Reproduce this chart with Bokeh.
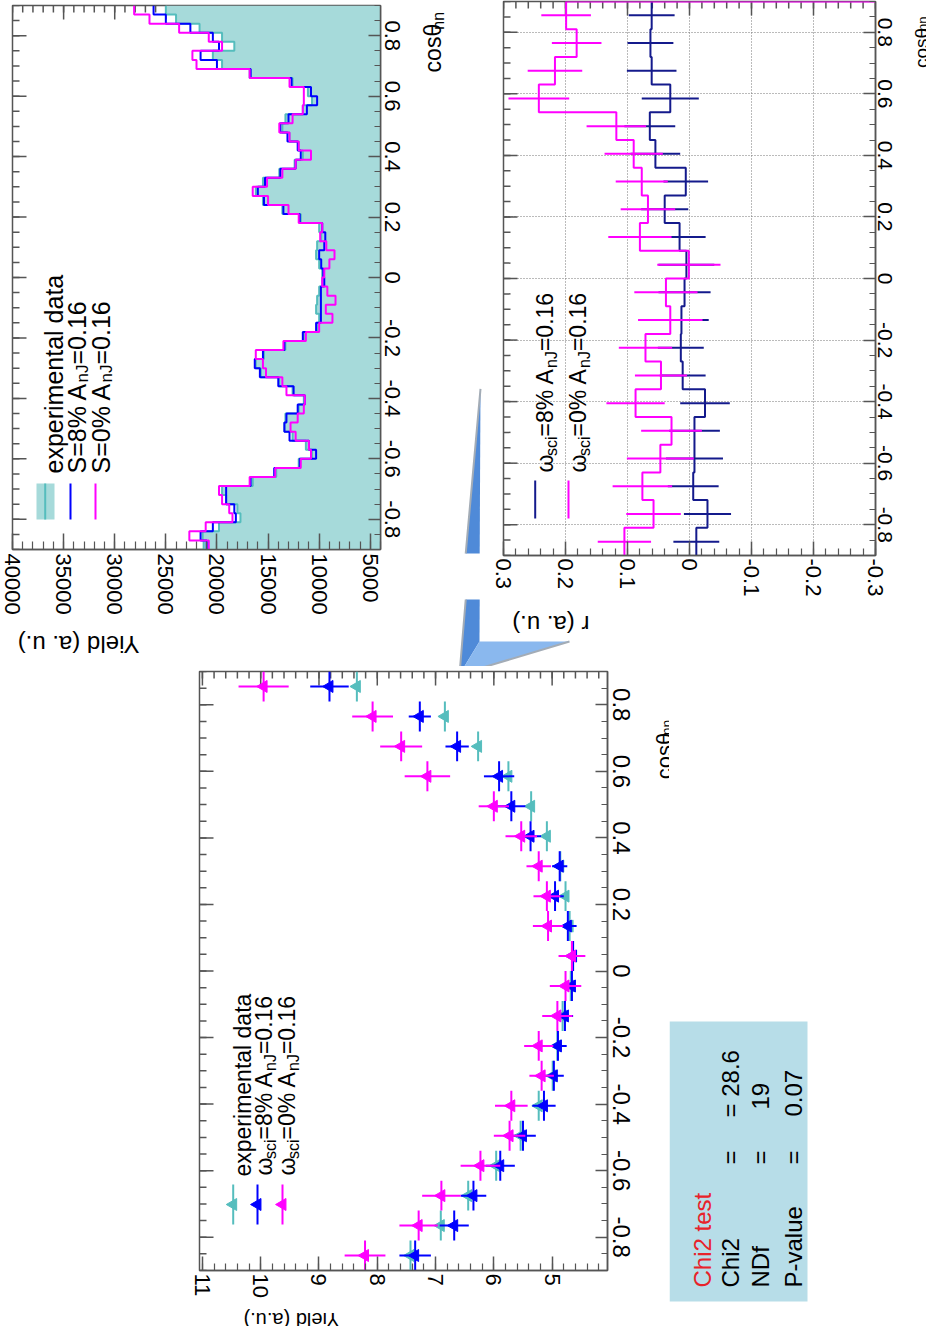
import math
from bokeh.plotting import figure
from bokeh.layouts import column, row
from bokeh.models import Range1d, FixedTicker, CustomJSTickFormatter, Label
from bokeh.embed import file_html
from bokeh.resources import INLINE

# ---------------- data ----------------
# Panel A: fine-binned yields (bins of 0.03 from -0.9 to 0.9)
hist_lo = -0.9
hist_bin = 0.03
yield_exp = [21300, 21400, 19800, 17700, 18000, 19100, 19500, 16500, 14200, 12000,
             10700, 11300, 12600, 13400, 13300, 12000, 11500, 12600, 13900, 15700,
             16200, 15400, 13300, 11500, 10200, 10000, 10300, 10200, 10000, 9700,
             9700, 10000, 10300, 10200, 9800, 10000, 11800, 13600, 15500, 16200,
             15500, 13900, 12400, 11600, 12000, 12900, 13600, 13300, 11600, 10700,
             11100, 12600, 16800, 19500, 20400, 18300, 19500, 21700, 24000, 25000]
yield_s8 = [21000, 21600, 20400, 18150, 18300, 19100, 19100, 16700, 14400, 11900,
            10300, 11000, 12900, 13400, 13200, 12100, 11400, 12500, 14000, 15800,
            16300, 15500, 13400, 11600, 10300, 9830, 9830, 9830, 9830, 9500,
            9600, 9800, 10000, 9500, 9400, 9700, 11900, 13500, 15400, 16000,
            15300, 13800, 12300, 11800, 12100, 13100, 13800, 13000, 11200, 10200,
            10800, 12700, 16700, 20000, 21600, 19800, 20400, 22600, 25000, 26200]
yield_s0 = [20800, 22700, 21100, 18480, 18800, 19500, 19800, 16800, 14300, 11800,
            10800, 11000, 12300, 12800, 12100, 11500, 11400, 13200, 13600, 15200,
            15500, 16200, 13500, 11300, 10000, 8700, 9350, 8400, 9200, 9700,
            9500, 9000, 8500, 9300, 9900, 9700, 12000, 13000, 15000, 16500,
            15100, 13600, 12300, 10800, 12000, 12900, 13900, 12600, 11600, 11500,
            11500, 12900, 16800, 22000, 22400, 19500, 20800, 23700, 26600, 28100]

# Panel B: ratio r (20 bins of 0.09)
ratio_lo = -0.9
ratio_bin = 0.09
r_s8 = [-0.011, -0.029, -0.006, -0.008, -0.008, -0.025, 0.011, 0.014, 0.013, 0.008,
        0.005, 0.016, 0.040, 0.006, 0.055, 0.064, 0.031, 0.061, 0.063, 0.061]
r_s8_err = [0.037, 0.038, 0.041, 0.046, 0.041, 0.040, 0.037, 0.037, 0.044, 0.042,
            0.045, 0.042, 0.038, 0.036, 0.040, 0.041, 0.046, 0.040, 0.037, 0.037]
r_s0 = [0.105, 0.058, 0.076, 0.047, 0.029, 0.087, 0.046, 0.071, 0.031, 0.038,
        0.001, 0.080, 0.067, 0.077, 0.090, 0.118, 0.243, 0.217, 0.182, 0.199]
r_s0_err = [0.043, 0.044, 0.048, 0.054, 0.049, 0.047, 0.042, 0.043, 0.052, 0.051,
            0.051, 0.051, 0.044, 0.042, 0.047, 0.048, 0.049, 0.044, 0.040, 0.040]

# Panel C: yields (a.u.) per 0.09 bin
pt_lo = -0.9
pt_bin = 0.09
pt_exp = [7.43, 6.91, 6.44, 5.96, 5.54, 5.23, 4.99, 4.91, 4.82, 4.68,
          4.66, 4.70, 4.77, 4.86, 5.09, 5.36, 5.75, 6.27, 6.84, 8.35]
pt_s8 = [7.35, 6.68, 6.35, 5.89, 5.50, 5.14, 4.97, 4.90, 4.78, 4.66,
         4.64, 4.73, 4.95, 4.87, 5.37, 5.70, 5.91, 6.63, 7.27, 8.82]
pt_s8_err = [0.27, 0.25, 0.22, 0.25, 0.22, 0.20, 0.17, 0.15, 0.14, 0.14,
             0.14, 0.15, 0.15, 0.13, 0.18, 0.24, 0.26, 0.20, 0.19, 0.33]
pt_s0 = [8.21, 7.29, 6.90, 6.23, 5.73, 5.70, 5.18, 5.23, 4.91, 4.77,
         4.66, 5.07, 5.09, 5.23, 5.53, 6.00, 7.14, 7.59, 8.08, 9.95]
pt_s0_err = [0.35, 0.33, 0.33, 0.34, 0.27, 0.28, 0.21, 0.25, 0.26, 0.27,
             0.23, 0.26, 0.23, 0.21, 0.27, 0.26, 0.39, 0.36, 0.35, 0.43]

# tick labels
cos_ticks = [-0.8, -0.6, -0.4, -0.2, 0, 0.2, 0.4, 0.6, 0.8]
yieldA_ticks = [5000, 10000, 15000, 20000, 25000, 30000, 35000, 40000]
r_ticks = [-0.3, -0.2, -0.1, 0, 0.1, 0.2, 0.3]
yieldC_ticks = [5, 6, 7, 8, 9, 10, 11]

chi2_names = ["Chi2", "NDf", "P-value"]
chi2_eq = ["=", "=", "="]
chi2_vals = ["= 28.6", "19", "0.07"]

# ---------------- style ----------------
FONT = "Liberation Sans"
NAVY = "#141a8c"
BLUE = "#0000ff"
MAG = "#ff00ff"
TEAL = "#55bdbd"
TEAL_FILL = "#a6dada"
AXC = "#555555"
PI = math.pi

AW = {' ': 278, '(': 333, ')': 333, '%': 889, '-': 333, '.': 278, '=': 584,
      'A': 667, 'C': 722, 'D': 722, 'J': 500, 'N': 722, 'P': 667, 'S': 667, 'Y': 667,
      'a': 556, 'c': 500, 'd': 556, 'e': 556, 'f': 278, 'h': 556, 'i': 222, 'l': 222,
      'm': 833, 'n': 556, 'o': 556, 'p': 556, 'r': 333, 's': 500, 't': 278, 'u': 556,
      'v': 500, 'x': 500, 'ω': 720, 'θ': 556}


def tw(s, size):
    return sum(AW.get(ch, 556) for ch in s) / 1000.0 * size


def frame_conv(L, T, W, H, xr, yr):
    def conv(px, py):
        return (xr[0] + (px - L) / W * (xr[1] - xr[0]),
                yr[1] + (py - T) / H * (yr[0] - yr[1]))
    return conv


def ident(px, py):
    return (px, py)


def rich(p, conv, x0, y0, segs, angle, color="black"):
    ax, ay = math.cos(angle), -math.sin(angle)
    dx, dy = math.sin(angle), math.cos(angle)
    flip = abs(angle - PI) < 1e-6
    adv = 0.0
    for txt, size, shift in segs:
        px = x0 + ax * adv + dx * shift
        py = y0 + ay * adv + dy * shift
        if flip:
            py += 0.74 * size   # upside-down text is anchored one cap height higher
        X, Y = conv(px, py)
        p.add_layout(Label(x=X, y=Y, text=txt, angle=angle, text_font=FONT,
                           text_font_size=f"{size}px", text_color=color,
                           text_align="left", text_baseline="alphabetic"))
        adv += tw(txt, size)


def minor_list(lo, hi, step):
    n = int(round((hi - lo) / step))
    return [lo + step * k for k in range(n + 1)]


FMT = "return String(Math.round(tick*1000)/1000);"


def style_axis(ax, ticks, minors, maj, size, standoff):
    ax.ticker = FixedTicker(ticks=ticks, minor_ticks=minors)
    ax.formatter = CustomJSTickFormatter(code=FMT)
    ax.major_tick_in = maj
    ax.major_tick_out = 0
    ax.minor_tick_in = maj // 2
    ax.minor_tick_out = 0
    ax.axis_line_color = AXC
    ax.axis_line_width = 1.5
    ax.major_tick_line_color = AXC
    ax.major_tick_line_width = 1.5
    ax.minor_tick_line_color = AXC
    ax.minor_tick_line_width = 1.2
    ax.major_label_orientation = "vertical"
    ax.major_label_text_font = FONT
    ax.major_label_text_font_size = f"{size}px"
    ax.major_label_text_color = "black"
    ax.major_label_standoff = standoff


def mirror_ticks(p, xr, yr, W, H, xt, xm, yt, ym, maj):
    # ticks pointing into the frame along the top and the left edge
    dy_maj = maj * (yr[1] - yr[0]) / H
    dx_maj = maj * (xr[1] - xr[0]) / W
    for vals, ln in ((xt, dy_maj), (xm, dy_maj / 2)):
        p.segment(x0=vals, y0=[yr[1]] * len(vals), x1=vals, y1=[yr[1] - ln] * len(vals),
                  line_color=AXC, line_width=1.5)
    for vals, ln in ((yt, dx_maj), (ym, dx_maj / 2)):
        p.segment(x0=[xr[0]] * len(vals), y0=vals, x1=[xr[0] + ln] * len(vals), y1=vals,
                  line_color=AXC, line_width=1.5)


def make_panel(fw, fh, mb, xr, yr):
    p = figure(frame_width=fw, frame_height=fh, title=None,
               min_border_left=mb[0], min_border_right=mb[1],
               min_border_top=mb[2], min_border_bottom=mb[3],
               x_range=Range1d(*xr), y_range=Range1d(*yr), y_axis_location="right",
               toolbar_location=None, output_backend="svg",
               outline_line_color=AXC, outline_line_width=1.5,
               background_fill_color="white", border_fill_color="white")
    p.xgrid.grid_line_color = None
    p.ygrid.grid_line_color = None
    return p


def deco_fig(x0, x1, y0, y1):
    # helper canvas whose data coordinates are the picture's pixels
    p = figure(width=x1 - x0, height=y1 - y0, x_range=Range1d(x0, x1), y_range=Range1d(y1, y0),
               min_border=0, x_axis_type=None, y_axis_type=None, title=None,
               toolbar_location=None, output_backend="svg", outline_line_color=None,
               background_fill_color="white", border_fill_color="white")
    p.xgrid.grid_line_color = None
    p.ygrid.grid_line_color = None
    return p


def step_path(vals, lo, w):
    xs, ys = [], []
    for k, v in enumerate(vals):
        xs += [v, v]
        ys += [lo + w * k, lo + w * (k + 1)]
    return xs, ys


def cos_title(p, bx, sy, size, sub_size, sub_shift):
    rich(p, ident, bx, sy, [("cosθ", size, 0), ("nn", sub_size, sub_shift)], PI / 2)


cos_minor = minor_list(-0.9, 0.9, 0.05)

# ---------------- Panel A (yield histograms) ----------------
A_xr = (40000, 4000)
A_yr = (-0.9, 0.9)
pA = make_panel(368, 544, (12, 31, 5, 69), A_xr, A_yr)          # picture x 8-419, y 8-626
cA = frame_conv(20, 13, 368, 544, A_xr, A_yr)
yA_minor = minor_list(4000, 40000, 1000)
style_axis(pA.xaxis[0], yieldA_ticks, yA_minor, 16, 22, 4)
style_axis(pA.yaxis[0], cos_ticks, cos_minor, 12, 22, 4)
mirror_ticks(pA, A_xr, A_yr, 368, 544, yieldA_ticks, yA_minor, cos_ticks, cos_minor, 14)

xs, ys = step_path(yield_exp, hist_lo, hist_bin)
pA.harea(x1=xs, x2=[A_xr[1]] * len(xs), y=ys, fill_color=TEAL_FILL, fill_alpha=1.0)
pA.line(xs, ys, line_color=TEAL, line_width=2)
xs, ys = step_path(yield_s8, hist_lo, hist_bin)
pA.line(xs, ys, line_color=BLUE, line_width=2)
xs, ys = step_path(yield_s0, hist_lo, hist_bin)
pA.line(xs, ys, line_color=MAG, line_width=2)

# legend A
l0, t0 = cA(44, 491)
r0_, b0 = cA(62, 527)
pA.quad(left=[l0], right=[r0_], top=[t0], bottom=[b0], fill_color=TEAL_FILL, line_color=None)
for px, col in ((52.7, TEAL), (78, BLUE), (103, MAG)):
    xa, ya = cA(px, 491)
    xb, yb = cA(px, 527)
    pA.segment(x0=[xa], y0=[ya], x1=[xb], y1=[yb], line_color=col, line_width=2)
rich(pA, cA, 61, 481, [("experimental data", 25, 0)], PI / 2)
rich(pA, cA, 84, 481, [("S=8% A", 25, 0), ("nJ", 17, 6), ("=0.16", 25, 0)], PI / 2)
rich(pA, cA, 108, 481, [("S=0% A", 25, 0), ("nJ", 17, 6), ("=0.16", 25, 0)], PI / 2)

tA_right = deco_fig(419, 460, 8, 626)
cos_title(tA_right, 440, 84, 23, 16, 6)
tA_bottom = deco_fig(8, 460, 626, 672)
rich(tA_bottom, ident, 147, 634, [("Yield (a. u.)", 24, 0)], PI)

# ---------------- Panel B (ratio) ----------------
B_xr = (0.3, -0.3)
B_yr = (-0.9, 0.9)
pB = make_panel(372, 554, (12, 27, 1, 42), B_xr, B_yr)          # picture x 499-910, y 8-605
cB = frame_conv(511, 9, 372, 554, B_xr, B_yr)
r_minor = minor_list(-0.3, 0.3, 0.02)
style_axis(pB.xaxis[0], r_ticks, r_minor, 14, 22, 3)
style_axis(pB.yaxis[0], cos_ticks, cos_minor, 12, 21, 2)
mirror_ticks(pB, B_xr, B_yr, 372, 554, r_ticks, r_minor, cos_ticks, cos_minor, 14)
pB.xgrid.grid_line_color = "#777777"
pB.ygrid.grid_line_color = "#777777"
pB.xgrid.grid_line_dash = "1 2"
pB.ygrid.grid_line_dash = "1 2"

rc = [ratio_lo + ratio_bin * (k + 0.5) for k in range(len(r_s8))]
xs, ys = step_path(r_s8, ratio_lo, ratio_bin)
pB.line(xs, ys, line_color=NAVY, line_width=2)
pB.segment(x0=[v - e for v, e in zip(r_s8, r_s8_err)], y0=rc,
           x1=[v + e for v, e in zip(r_s8, r_s8_err)], y1=rc, line_color=NAVY, line_width=2)
xs, ys = step_path(r_s0, ratio_lo, ratio_bin)
xs = xs + [B_xr[1]]
ys = ys + [ys[-1]]
pB.line(xs, ys, line_color=MAG, line_width=2)
pB.segment(x0=[v - e for v, e in zip(r_s0, r_s0_err)], y0=rc,
           x1=[v + e for v, e in zip(r_s0, r_s0_err)], y1=rc, line_color=MAG, line_width=2)

# legend B
for px, col in ((542.7, NAVY), (576, MAG)):
    xa, ya = cB(px, 488)
    xb, yb = cB(px, 526)
    pB.segment(x0=[xa], y0=[ya], x1=[xb], y1=[yb], line_color=col, line_width=2)
rich(pB, cB, 552, 480, [("ω", 23, 0), ("sci", 16, 7), ("=8% A", 23, 0), ("nJ", 16, 7), ("=0.16", 23, 0)], PI / 2)
rich(pB, cB, 585, 480, [("ω", 23, 0), ("sci", 16, 7), ("=0% A", 23, 0), ("nJ", 16, 7), ("=0.16", 23, 0)], PI / 2)

tB_right = deco_fig(910, 934, 8, 605)
cos_title(tB_right, 928.5, 80, 19, 13, 1.5)

# callout arrow (decoration, in picture pixels), split over two helper canvases
arrow_blade_v = ([488, 487, 467], [427, 647, 680])
arrow_blade_h = ([487, 577, 467], [647, 647, 680])
arrow_edge = ([488, 467, 577], [427, 680, 647])
aTop = deco_fig(460, 499, 8, 605)
bBottom = deco_fig(460, 934, 605, 672)
for f in (aTop, bBottom):
    f.patch(arrow_blade_v[0], arrow_blade_v[1], fill_color="#4f8ad8", line_color=None)
    f.patch(arrow_blade_h[0], arrow_blade_h[1], fill_color="#8ab8ee", line_color=None)
    f.line(arrow_edge[0], arrow_edge[1], line_color="#a3acb6", line_width=2)
rich(bBottom, ident, 597, 612, [("r (a. u.)", 24, 0)], PI)

# ---------------- Panel C (yield points) ----------------
C_xr = (11.05, 4.05)
C_yr = (-0.9, 0.9)
pC = make_panel(408, 599, (199, 37, 5, 28), C_xr, C_yr)         # picture x 8-652, y 672-1304
cC = frame_conv(207, 677, 408, 599, C_xr, C_yr)
yC_minor = minor_list(4.2, 11.0, 0.2)
style_axis(pC.xaxis[0], yieldC_ticks, yC_minor, 14, 22, 3)
style_axis(pC.yaxis[0], cos_ticks, cos_minor, 12, 24, 5)
mirror_ticks(pC, C_xr, C_yr, 408, 599, yieldC_ticks, yC_minor, cos_ticks, cos_minor, 14)

pc = [pt_lo + pt_bin * (k + 0.5) for k in range(len(pt_exp))]
half = pt_bin / 2
for vals, errs, col in ((pt_exp, None, TEAL), (pt_s8, pt_s8_err, BLUE), (pt_s0, pt_s0_err, MAG)):
    pC.segment(x0=vals, y0=[c - half for c in pc], x1=vals, y1=[c + half for c in pc],
               line_color=col, line_width=2)
    if errs is not None:
        pC.segment(x0=[v - e for v, e in zip(vals, errs)], y0=pc,
                   x1=[v + e for v, e in zip(vals, errs)], y1=pc, line_color=col, line_width=2)
    pC.scatter(vals, pc, marker="triangle", angle=PI / 2, size=12, fill_color=col, line_color=col)

# legend C
for px, col in ((240.7, TEAL), (265, BLUE), (290, MAG)):
    xa, ya = cC(px, 1190)
    xb, yb = cC(px, 1230)
    pC.segment(x0=[xa], y0=[ya], x1=[xb], y1=[yb], line_color=col, line_width=2)
    xm, ym = cC(px, 1210)
    pC.scatter([xm], [ym], marker="triangle", angle=PI / 2, size=12, fill_color=col, line_color=col)
rich(pC, cC, 250, 1182, [("experimental data", 23, 0)], PI / 2)
rich(pC, cC, 271, 1181, [("ω", 23, 0), ("sci", 16, 7), ("=8% A", 23, 0), ("nJ", 16, 7), ("=0.16", 23, 0)], PI / 2)
rich(pC, cC, 294, 1181, [("ω", 23, 0), ("sci", 16, 7), ("=0% A", 23, 0), ("nJ", 16, 7), ("=0.16", 23, 0)], PI / 2)

tC_right = deco_fig(652, 677, 672, 1304)
cos_title(tC_right, 672, 786, 22, 14, 2)
tC_bottom = deco_fig(8, 677, 1304, 1330)
rich(tC_bottom, ident, 347, 1308.7, [("Yield (a.u.)", 20, 0)], PI)

# ---------------- Chi2 box ----------------
pS = deco_fig(677, 934, 672, 1330)
pS.quad(left=[677], right=[815], top=[1027], bottom=[1307], fill_color="#b7dde8", line_color=None)
rich(pS, ident, 710, 1293, [("Chi2 test", 24, 0)], PI / 2, color="#e8232a")
for i, (nm, eq, vl) in enumerate(zip(chi2_names, chi2_eq, chi2_vals)):
    bx = [738, 768, 801][i]
    rich(pS, ident, bx, 1293, [(nm, 24, 0)], PI / 2)
    rich(pS, ident, bx, 1170, [(eq, 24, 0)], PI / 2)
    rich(pS, ident, bx, [1123, 1115, 1122][i], [(vl, 24, 0)], PI / 2)

colA = column(row(pA, tA_right, spacing=0), tA_bottom, spacing=0)
colB = column(row(aTop, pB, tB_right, spacing=0), bBottom, spacing=0)
colC = column(row(pC, tC_right, spacing=0), tC_bottom, spacing=0)
layout = column(row(colA, colB, spacing=0), row(colC, pS, spacing=0), spacing=0)
open("out.html", "w").write(file_html(layout, INLINE, title="chart"))
